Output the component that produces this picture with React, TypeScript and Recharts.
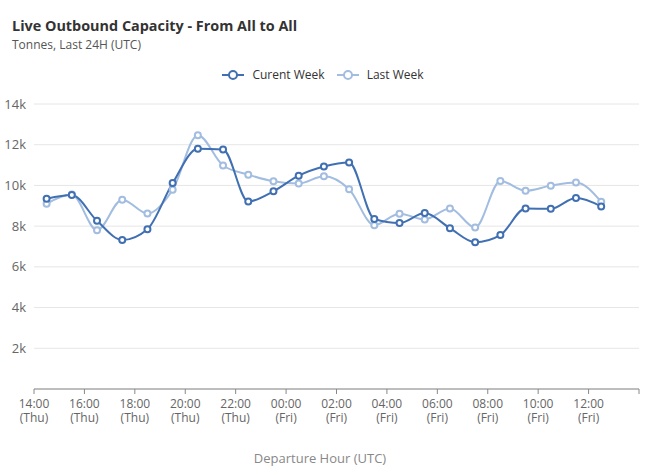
import React from 'react'
import { LineChart, Line, XAxis, YAxis, CartesianGrid } from 'recharts'

const hours = ['14:00', '15:00', '16:00', '17:00', '18:00', '19:00', '20:00', '21:00', '22:00', '23:00', '00:00', '01:00',
  '02:00', '03:00', '04:00', '05:00', '06:00', '07:00', '08:00', '09:00', '10:00', '11:00', '12:00']
const currentWeek = [9350, 9530, 8260, 7320, 7850, 10120, 11800, 11770, 9210, 9710, 10480, 10930,
  11130, 8350, 8150, 8640, 7900, 7210, 7560, 8870, 8850, 9380, 8970]
const lastWeek = [9100, 9550, 7800, 9300, 8620, 9790, 12470, 10980, 10530, 10200, 10090, 10450,
  9810, 8050, 8610, 8330, 8870, 7930, 10220, 9740, 9990, 10150, 9200]
const tickTimes = ['14:00', '16:00', '18:00', '20:00', '22:00', '00:00', '02:00', '04:00', '06:00', '08:00', '10:00', '12:00']
const tickDays = ['Thu', 'Thu', 'Thu', 'Thu', 'Thu', 'Fri', 'Fri', 'Fri', 'Fri', 'Fri', 'Fri', 'Fri']
const yTicks = [2000, 4000, 6000, 8000, 10000, 12000, 14000]

const DARK = '#4170b2'
const LIGHT = '#a2bde0'
const FONT = '"Open Sans", sans-serif'

// each hour sits in the middle of its slot, ticks fall on slot boundaries
const data = hours.map((h, i) => ({ x: i + 0.5, hour: h, current: currentWeek[i], last: lastWeek[i] }))

function XTick(props: any) {
  const { x, y, payload } = props
  const idx = Math.round(payload.value / 2)
  if (idx >= tickTimes.length) return null
  return (
    <text x={x} y={y} textAnchor="middle" fill="#666" fontSize={12} fontFamily={FONT}>
      <tspan x={x} dy={12}>{tickTimes[idx]}</tspan>
      <tspan x={x} dy={14}>({tickDays[idx]})</tspan>
    </text>
  )
}

function LegendBox() {
  const items = [
    { label: 'Curent Week', color: DARK },
    { label: 'Last Week', color: LIGHT },
  ]
  return (
    <div style={{ display: 'flex', justifyContent: 'center', gap: 12, fontSize: 12, color: '#333' }}>
      {items.map(it => (
        <div key={it.label} style={{ display: 'flex', alignItems: 'center', gap: 8 }}>
          <svg width={22} height={10}>
            <line x1={0} y1={5} x2={22} y2={5} stroke={it.color} strokeWidth={2} />
            <circle cx={11} cy={5} r={4} fill="#fff" stroke={it.color} strokeWidth={2} />
          </svg>
          <span>{it.label}</span>
        </div>
      ))}
    </div>
  )
}

export default function App() {
  return (
    <div style={{ position: 'absolute', left: 0, top: 0, width: 657, height: 475, background: '#fff', fontFamily: FONT }}>
      <div style={{ position: 'absolute', left: 12, top: 16, fontSize: 14.4, fontWeight: 700, color: '#333' }}>
        Live Outbound Capacity - From All to All
      </div>
      <div style={{ position: 'absolute', left: 12, top: 36, fontSize: 12, color: '#555' }}>
        Tonnes, Last 24H (UTC)
      </div>
      <div style={{ position: 'absolute', left: 0, width: 646, top: 66 }}>
        <LegendBox />
      </div>
      <LineChart width={657} height={475} data={data} margin={{ top: 104, right: 18, bottom: 0, left: 0 }}>
        <CartesianGrid horizontal vertical={false} stroke="#e6e6e6" />
        <XAxis
          dataKey="x"
          type="number"
          domain={[0, 24]}
          ticks={[0, 2, 4, 6, 8, 10, 12, 14, 16, 18, 20, 22, 24]}
          interval={0}
          height={86}
          tick={<XTick />}
          tickSize={5}
          tickLine={{ stroke: '#888' }}
          axisLine={{ stroke: '#888' }}
        />
        <YAxis
          width={34}
          domain={[0, 14000]}
          ticks={yTicks}
          tickFormatter={(v: number) => `${v / 1000}k`}
          axisLine={false}
          tickLine={false}
          tick={{ fill: '#666', fontSize: 13, fontFamily: FONT }}
        />
        <Line type="monotone" dataKey="last" name="Last Week" stroke={LIGHT} strokeWidth={2}
          dot={{ r: 3, fill: '#fff', stroke: LIGHT, strokeWidth: 2 }} isAnimationActive={false} />
        <Line type="monotone" dataKey="current" name="Curent Week" stroke={DARK} strokeWidth={2}
          dot={{ r: 3, fill: '#fff', stroke: DARK, strokeWidth: 2 }} isAnimationActive={false} />
      </LineChart>
      <div style={{ position: 'absolute', left: 0, width: 640, top: 449, textAlign: 'center', fontSize: 13, color: '#888' }}>
        Departure Hour (UTC)
      </div>
    </div>
  )
}
